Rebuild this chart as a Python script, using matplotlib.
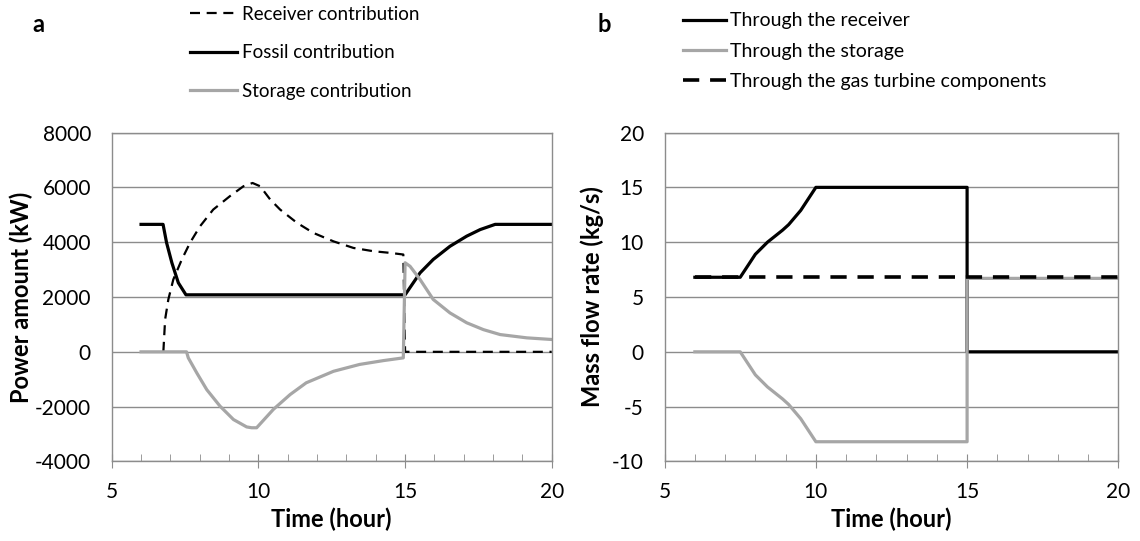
import matplotlib.pyplot as plt
from matplotlib.ticker import MultipleLocator

plt.rcParams["font.family"] = ["Lato", "DejaVu Sans"]
plt.rcParams["axes.unicode_minus"] = False

# panel a: power contributions (kW)
fossil_t = [6.0, 6.75, 6.87, 7.05, 7.27, 7.53, 15.0, 15.51, 15.96, 16.53, 17.1, 17.56, 18.07, 20.0]
fossil_kw = [4650, 4650, 3980, 3250, 2520, 2080, 2080, 2880, 3370, 3850, 4220, 4460, 4650, 4650]

receiver_t = [6.76, 6.82, 6.93, 7.10, 7.39, 7.67, 8.01, 8.46, 9.03, 9.49, 9.80,
              10.06, 10.40, 10.74, 11.31, 11.87, 12.56, 13.24, 13.92, 14.49, 14.94, 15.0, 20.0]
receiver_kw = [0, 1180, 1910, 2640, 3370, 3980, 4580, 5190, 5680, 6040, 6160,
               6040, 5560, 5190, 4710, 4340, 4030, 3790, 3670, 3610, 3550, 0, 0]

storage_t = [6.0, 7.55, 7.61, 7.90, 8.24, 8.69, 9.15, 9.60, 9.77, 9.94, 10.51, 11.08, 11.63,
             12.56, 13.45, 14.26, 14.94, 15.0, 15.17, 15.51, 15.96, 16.53, 17.1, 17.67,
             18.24, 19.15, 20.0]
storage_kw = [0, 0, -220, -770, -1380, -1980, -2470, -2740, -2770, -2770, -2100, -1560, -1130,
              -710, -460, -320, -220, 3250, 3120, 2640, 1910, 1420, 1060, 810,
              630, 510, 450]

# panel b: mass flow rates (kg/s)
rec_flow_t = [6.0, 7.5, 8.0, 8.4, 8.9, 9.1, 9.5, 10.0, 15.0, 15.0, 20.0]
rec_flow = [6.8, 6.8, 8.9, 10.0, 11.1, 11.6, 12.9, 15.0, 15.0, 0.0, 0.0]

sto_flow_t = [6.0, 7.5, 8.0, 8.4, 8.9, 9.1, 9.5, 10.0, 15.0, 15.0, 20.0]
sto_flow = [0.0, 0.0, -2.1, -3.2, -4.3, -4.8, -6.1, -8.2, -8.2, 6.7, 6.7]

gt_flow_t = [6.0, 20.0]
gt_flow = [6.8, 6.8]

GRAY = "#a6a6a6"
GRID = "#8c8c8c"


def style_axes(ax):
    for s in ax.spines.values():
        s.set_color(GRID)
        s.set_linewidth(1.0)
    ax.grid(axis="y", color=GRID, linewidth=1.0)
    ax.set_axisbelow(True)
    ax.set_xlim(5, 20)
    ax.xaxis.set_major_locator(MultipleLocator(5))
    ax.xaxis.set_minor_locator(MultipleLocator(1))
    ax.tick_params(axis="x", which="major", direction="inout", length=10, color=GRID,
                   labelsize=15, pad=10)
    ax.tick_params(axis="x", which="minor", direction="in", length=5, color=GRID)
    ax.tick_params(axis="y", length=0, labelsize=15, pad=15)
    ax.set_xlabel("Time (hour)", fontsize=17, fontweight="bold", labelpad=4)


fig = plt.figure(figsize=(11.4, 5.41), dpi=100)
ax1 = fig.add_axes([0.098, 0.147, 0.386, 0.608])
ax2 = fig.add_axes([0.583, 0.147, 0.398, 0.608])

ax1.plot(fossil_t, fossil_kw, color="black", lw=2.3, label="Fossil contribution")
ax1.plot(receiver_t, receiver_kw, color="black", lw=1.6, dashes=(4.5, 3),
         label="Receiver contribution")
ax1.plot(storage_t, storage_kw, color=GRAY, lw=2.3, label="Storage contribution")
style_axes(ax1)
ax1.set_ylim(-4000, 8000)
ax1.yaxis.set_major_locator(MultipleLocator(2000))
ax1.set_ylabel("Power amount (kW)", fontsize=17, fontweight="bold", labelpad=1)

h, l = ax1.get_legend_handles_labels()
order = [1, 0, 2]
ax1.legend([h[i] for i in order], [l[i] for i in order], loc="upper left",
           bbox_to_anchor=(0.178, 1.385), frameon=False, fontsize=13.5,
           handlelength=2.5, handletextpad=0.25, labelspacing=1.15, borderaxespad=0,
           borderpad=0)

ax2.plot(rec_flow_t, rec_flow, color="black", lw=2.3, label="Through the receiver")
ax2.plot(sto_flow_t, sto_flow, color=GRAY, lw=2.3, label="Through the storage")
ax2.plot(gt_flow_t, gt_flow, color="black", lw=2.6, dashes=(4.5, 3),
         label="Through the gas turbine components")
style_axes(ax2)
ax2.set_ylim(-10, 20)
ax2.yaxis.set_major_locator(MultipleLocator(5))
ax2.set_ylabel("Mass flow rate (kg/s)", fontsize=17, fontweight="bold", labelpad=6)
ax2.legend(loc="upper left", bbox_to_anchor=(0.04, 1.365), frameon=False, fontsize=14,
           handlelength=2.2, handletextpad=0.25, labelspacing=0.68, borderaxespad=0,
           borderpad=0)

fig.text(0.028, 0.954, "a", fontsize=17, fontweight="bold", va="center")
fig.text(0.524, 0.954, "b", fontsize=17, fontweight="bold", va="center")

fig.savefig("out.png", dpi=100)
